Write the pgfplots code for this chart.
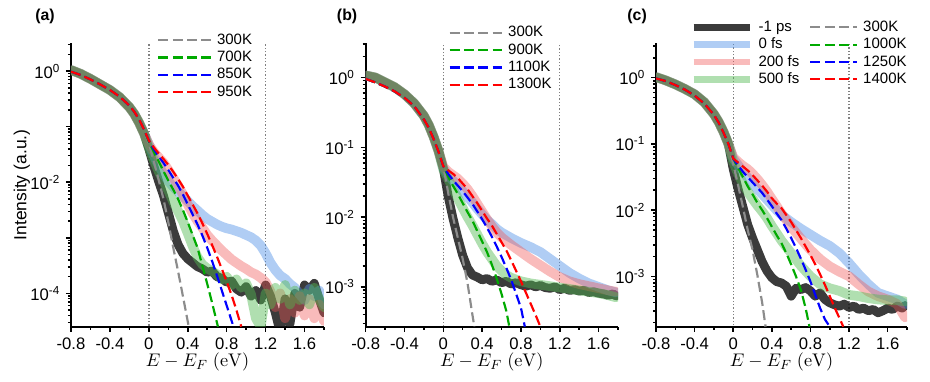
\documentclass[border=0pt]{standalone}
\usepackage[no-math]{fontspec}
\setmainfont{Liberation Sans}
\usepackage{pgfplots}
\pgfplotsset{compat=1.18}

\definecolor{cblack}{RGB}{25,25,25}
\definecolor{cblue}{RGB}{80,145,230}
\definecolor{cred}{RGB}{240,85,85}
\definecolor{cgreen}{RGB}{80,185,80}
\definecolor{fgray}{RGB}{140,140,140}
\definecolor{fgreen}{RGB}{0,170,0}
\definecolor{fblue}{RGB}{0,0,255}
\definecolor{fred}{RGB}{255,0,0}

\tikzset{plab/.style={anchor=west, inner sep=0pt, font=\bfseries\fontsize{9.5}{11}\selectfont}}

\pgfplotsset{
  panel/.style={
    scale only axis, height=170pt, clip mode=individual,
    axis x line*=bottom, axis y line*=left,
    xmin=-0.8, xmax=1.8,
    xtick={-0.8,-0.4,0,0.4,0.8,1.2,1.6},
    xticklabels={-0.8,-0.4,0,0.4,0.8,1.2,1.6},
    minor xtick={-0.6,-0.2,0.2,0.6,1.0,1.4,1.8},
    minor ytick={-4.699,-4.523,-4.398,-4.301,-4.222,-4.155,-4.097,-4.046,
                 -3.699,-3.523,-3.398,-3.301,-3.222,-3.155,-3.097,-3.046,
                 -2.699,-2.523,-2.398,-2.301,-2.222,-2.155,-2.097,-2.046,
                 -1.699,-1.523,-1.398,-1.301,-1.222,-1.155,-1.097,-1.046,
                 -0.699,-0.523,-0.398,-0.301,-0.222,-0.155,-0.097,-0.046,
                 0.301,0.477},
    tick align=outside,
    major tick length=3pt, minor tick length=1.8pt,
    axis line style={line width=1.1pt},
    tick style={black, line width=0.9pt},
    ticklabel style={font=\fontsize{10}{12}\selectfont},
    xlabel={$E - E_F\ (\mathrm{eV})$},
    xlabel style={font=\fontsize{11}{13}\selectfont, at={(axis description cs:0.5,-0.124)}, anchor=center},
    legend style={draw=none, fill=none, inner sep=0pt, font=\fontsize{9}{11}\selectfont,
      anchor=north west, cells={anchor=west},
      nodes={inner sep=0.5pt, text height=7.2pt, text depth=2.2pt},
      /tikz/every odd column/.append style={column sep=2.5pt}},
    legend image code/.code={\draw[##1] (0pt,0pt) -- (31.5pt,0pt);},
  },
  dlegend/.style={legend image code/.code={\draw[##1, line width=4pt, line cap=butt] (0pt,0pt) -- (34pt,0pt);}},
  flegend/.style={legend image code/.code={\draw[##1] (0pt,0pt) -- (28pt,0pt);}},
  dat/.style={line width=5.8pt, line join=round, line cap=round},
  dblack/.style={dat, line width=5.3pt, color=cblack, opacity=0.85},
  dblue/.style={dat, color=cblue, opacity=0.45},
  dred/.style={dat, color=cred, opacity=0.4},
  dgreen/.style={dat, color=cgreen, opacity=0.45},
  fitl/.style={line width=1.3pt, dash pattern=on 6pt off 2.6pt},
  vline/.style={color=gray, line width=0.8pt, dash pattern=on 0.8pt off 1.2pt, forget plot},
}

\begin{document}
\begin{tikzpicture}
\useasboundingbox (0,0) rectangle (558pt,229.2pt);

%%%%%%%%%%%%%%%%%%%% (a)
\begin{axis}[panel, at={(42.6pt,33.2pt)}, anchor=south west, width=151.8pt,
  ymin=-4.6, ymax=0.5,
  ytick={-4,-3,-2,-1,0},
  yticklabels={10\textsuperscript{-4},,10\textsuperscript{-2},,10\textsuperscript{0}},
  ylabel={Intensity (a.u.)},
  ylabel style={font=\fontsize{10.5}{12}\selectfont, at={(axis description cs:-0.194,0.5)}, anchor=center},
  legend style={at={(0.34,1.043)}}]
\addplot[vline] coordinates {(0,-5) (0,1)};
\addplot[vline] coordinates {(1.2,-5) (1.2,1)};
\addplot[dblack, forget plot] table {
-0.8 0.02
-0.7 -0.05
-0.6 -0.14
-0.5 -0.24
-0.4 -0.34
-0.3 -0.47
-0.2 -0.65
-0.15 -0.77
-0.1 -0.93
-0.05 -1.12
0 -1.40
0.05 -1.70
0.1 -1.98
0.15 -2.24
0.2 -2.55
0.25 -2.87
0.3 -3.12
0.35 -3.28
0.4 -3.38
0.45 -3.45
0.5 -3.52
0.55 -3.56
0.6 -3.62
0.65 -3.6
0.7 -3.7
0.75 -3.73
0.8 -3.8
0.85 -3.78
0.9 -3.92
0.95 -3.98
1.0 -3.88
1.05 -4.05
1.1 -3.95
1.15 -4.12
1.2 -3.85
1.25 -4.05
1.3 -4.35
1.35 -4.7
1.4 -4.1
1.45 -4.55
1.5 -4.0
1.55 -4.25
1.6 -3.85
1.65 -3.95
1.7 -3.82
1.75 -4.1
1.8 -4.35
};
\addplot[dblue, forget plot] table {
-0.8 0.02
-0.7 -0.05
-0.6 -0.14
-0.5 -0.24
-0.4 -0.34
-0.3 -0.47
-0.2 -0.65
-0.15 -0.77
-0.1 -0.93
-0.05 -1.12
0 -1.32
0.05 -1.52
0.1 -1.70
0.15 -1.85
0.2 -1.98
0.25 -2.08
0.3 -2.17
0.35 -2.25
0.4 -2.34
0.45 -2.43
0.5 -2.51
0.55 -2.59
0.6 -2.66
0.65 -2.71
0.7 -2.76
0.75 -2.8
0.8 -2.83
0.85 -2.85
0.9 -2.88
0.95 -2.91
1.0 -2.95
1.05 -2.99
1.1 -3.05
1.15 -3.14
1.2 -3.28
1.25 -3.45
1.3 -3.58
1.35 -3.68
1.4 -3.74
1.45 -3.83
1.5 -3.9
1.55 -4.02
1.6 -4.12
1.65 -3.92
1.7 -4.05
1.75 -3.95
1.8 -4.2
};
\addplot[dred, forget plot] table {
-0.8 0.02
-0.7 -0.05
-0.6 -0.14
-0.5 -0.24
-0.4 -0.34
-0.3 -0.47
-0.2 -0.65
-0.15 -0.77
-0.1 -0.93
-0.05 -1.12
0 -1.32
0.05 -1.45
0.1 -1.55
0.15 -1.65
0.2 -1.78
0.25 -1.92
0.3 -2.06
0.35 -2.22
0.4 -2.4
0.45 -2.56
0.5 -2.7
0.55 -2.82
0.6 -2.95
0.65 -3.05
0.7 -3.14
0.75 -3.23
0.8 -3.31
0.85 -3.39
0.9 -3.45
0.95 -3.51
1.0 -3.56
1.05 -3.62
1.1 -3.66
1.15 -3.72
1.2 -3.8
1.25 -3.97
1.3 -4.25
1.35 -4.0
1.4 -4.45
1.45 -4.1
1.5 -4.35
1.55 -4.05
1.6 -4.4
1.65 -4.1
1.7 -4.45
1.75 -4.2
1.8 -4.5
};
\addplot[dgreen, forget plot] table {
-0.8 0.02
-0.7 -0.05
-0.6 -0.14
-0.5 -0.24
-0.4 -0.34
-0.3 -0.47
-0.2 -0.65
-0.15 -0.77
-0.1 -0.93
-0.05 -1.12
0 -1.38
0.05 -1.6
0.1 -1.8
0.15 -1.98
0.2 -2.15
0.25 -2.35
0.3 -2.52
0.35 -2.7
0.4 -2.92
0.45 -3.15
0.5 -3.35
0.55 -3.48
0.6 -3.55
0.65 -3.6
0.7 -3.66
0.75 -3.75
0.8 -3.7
0.85 -3.85
0.9 -3.75
0.95 -3.9
1.0 -3.82
1.05 -4.02
1.1 -4.45
1.15 -4.6
1.2 -4.0
1.25 -4.2
1.3 -3.9
1.35 -4.1
1.4 -3.85
1.45 -4.2
1.5 -3.95
1.55 -4.12
1.6 -4.0
1.65 -4.2
1.7 -3.9
1.75 -4.1
1.8 -4.25
};
\addplot[fitl, fgray] table {
-0.8 -0.01
-0.7 -0.07
-0.6 -0.15
-0.5 -0.24
-0.4 -0.34
-0.3 -0.46
-0.2 -0.62
-0.15 -0.73
-0.1 -0.87
-0.05 -1.05
0 -1.3
0.05 -1.62
0.1 -1.95
0.15 -2.3
0.2 -2.72
0.25 -3.17
0.3 -3.6
0.35 -4.05
0.41 -4.6
};
\addlegendentry{300K}
\addplot[fitl, fgreen] table {
-0.8 -0.01
-0.7 -0.07
-0.6 -0.15
-0.5 -0.24
-0.4 -0.34
-0.3 -0.46
-0.2 -0.62
-0.15 -0.73
-0.1 -0.87
-0.05 -1.05
0 -1.27
0.05 -1.45
0.1 -1.62
0.15 -1.8
0.2 -1.97
0.25 -2.13
0.3 -2.3
0.35 -2.5
0.4 -2.72
0.45 -2.95
0.5 -3.18
0.55 -3.5
0.6 -3.83
0.65 -4.17
0.71 -4.6
};
\addlegendentry{700K}
\addplot[fitl, fblue] table {
-0.8 -0.01
-0.7 -0.07
-0.6 -0.15
-0.5 -0.24
-0.4 -0.34
-0.3 -0.46
-0.2 -0.62
-0.15 -0.73
-0.1 -0.87
-0.05 -1.05
0 -1.25
0.05 -1.4
0.1 -1.53
0.15 -1.65
0.2 -1.78
0.25 -1.92
0.3 -2.06
0.35 -2.22
0.4 -2.4
0.45 -2.58
0.5 -2.76
0.55 -2.96
0.6 -3.18
0.65 -3.42
0.7 -3.68
0.75 -3.95
0.8 -4.22
0.87 -4.6
};
\addlegendentry{850K}
\addplot[fitl, fred] table {
-0.8 -0.01
-0.7 -0.07
-0.6 -0.15
-0.5 -0.24
-0.4 -0.34
-0.3 -0.46
-0.2 -0.62
-0.15 -0.73
-0.1 -0.87
-0.05 -1.05
0 -1.25
0.05 -1.37
0.1 -1.48
0.15 -1.58
0.2 -1.69
0.25 -1.81
0.3 -1.94
0.35 -2.08
0.4 -2.24
0.45 -2.4
0.5 -2.56
0.55 -2.74
0.6 -2.93
0.65 -3.13
0.7 -3.34
0.75 -3.56
0.8 -3.79
0.85 -4.03
0.9 -4.3
0.95 -4.6
};
\addlegendentry{950K}
\node[plab] at (rel axis cs:-0.142,1.094) {(a)};
\end{axis}

%%%%%%%%%%%%%%%%%%%% (b)
\begin{axis}[panel, at={(219.4pt,33.2pt)}, anchor=south west, width=151.4pt,
  ymin=-3.57, ymax=0.49,
  ytick={-3,-2,-1,0},
  yticklabels={10\textsuperscript{-3},10\textsuperscript{-2},10\textsuperscript{-1},10\textsuperscript{0}},
  legend style={at={(0.327,1.069)}}]
\addplot[vline] coordinates {(0,-5) (0,1)};
\addplot[vline] coordinates {(1.2,-5) (1.2,1)};
\addplot[dblack, forget plot] table {
-0.8 0.03
-0.7 0.0
-0.6 -0.07
-0.5 -0.14
-0.4 -0.24
-0.3 -0.37
-0.2 -0.55
-0.15 -0.68
-0.1 -0.85
-0.05 -1.05
0 -1.30
0.05 -1.70
0.1 -2.02
0.15 -2.3
0.2 -2.55
0.25 -2.73
0.3 -2.83
0.35 -2.86
0.4 -2.9
0.45 -2.88
0.5 -2.92
0.55 -2.9
0.6 -2.94
0.65 -2.92
0.7 -2.96
0.75 -2.94
0.8 -2.97
0.85 -2.99
0.9 -2.97
0.95 -3.0
1.0 -2.98
1.05 -3.01
1.1 -3.02
1.15 -3.0
1.2 -3.04
1.25 -3.02
1.3 -3.05
1.35 -3.04
1.4 -3.06
1.45 -3.05
1.5 -3.08
1.55 -3.07
1.6 -3.09
1.65 -3.1
1.7 -3.12
1.75 -3.1
1.78 -3.13
};
\addplot[dblue, forget plot] table {
-0.8 0.03
-0.7 0.0
-0.6 -0.07
-0.5 -0.14
-0.4 -0.24
-0.3 -0.37
-0.2 -0.55
-0.15 -0.68
-0.1 -0.85
-0.05 -1.05
0 -1.3
0.05 -1.4
0.1 -1.48
0.15 -1.55
0.2 -1.63
0.25 -1.71
0.3 -1.79
0.35 -1.88
0.4 -1.96
0.45 -2.04
0.5 -2.1
0.55 -2.17
0.6 -2.22
0.65 -2.26
0.7 -2.3
0.8 -2.37
0.9 -2.43
1.0 -2.5
1.1 -2.6
1.2 -2.7
1.3 -2.8
1.4 -2.88
1.5 -2.95
1.6 -3.0
1.7 -3.05
1.78 -3.08
};
\addplot[dred, forget plot] table {
-0.8 0.03
-0.7 0.0
-0.6 -0.07
-0.5 -0.14
-0.4 -0.24
-0.3 -0.37
-0.2 -0.55
-0.15 -0.68
-0.1 -0.85
-0.05 -1.05
0 -1.28
0.05 -1.35
0.1 -1.4
0.15 -1.45
0.2 -1.52
0.25 -1.6
0.3 -1.7
0.35 -1.81
0.4 -1.92
0.45 -2.03
0.5 -2.13
0.55 -2.22
0.6 -2.29
0.7 -2.4
0.8 -2.5
0.9 -2.6
1.0 -2.69
1.1 -2.78
1.2 -2.86
1.3 -2.92
1.4 -2.96
1.5 -2.99
1.6 -3.02
1.7 -3.05
1.78 -3.07
};
\addplot[dgreen, forget plot] table {
-0.8 0.03
-0.7 0.0
-0.6 -0.07
-0.5 -0.14
-0.4 -0.24
-0.3 -0.37
-0.2 -0.55
-0.15 -0.68
-0.1 -0.85
-0.05 -1.05
0 -1.32
0.05 -1.45
0.1 -1.6
0.15 -1.73
0.2 -1.87
0.25 -2.0
0.3 -2.12
0.35 -2.25
0.4 -2.38
0.45 -2.5
0.5 -2.6
0.55 -2.7
0.6 -2.77
0.65 -2.83
0.7 -2.87
0.8 -2.92
0.9 -2.95
1.0 -2.97
1.1 -2.99
1.2 -3.01
1.3 -3.03
1.4 -3.05
1.5 -3.07
1.6 -3.09
1.7 -3.12
1.78 -3.15
};
\addplot[fitl, fgray] table {
-0.8 -0.02
-0.7 -0.07
-0.6 -0.13
-0.5 -0.2
-0.4 -0.29
-0.3 -0.41
-0.2 -0.6
-0.15 -0.72
-0.1 -0.88
-0.05 -1.06
0 -1.27
0.05 -1.65
0.1 -2.0
0.15 -2.3
0.2 -2.6
0.25 -2.95
0.3 -3.4
0.32 -3.57
};
\addlegendentry{300K}
\addplot[fitl, fgreen] table {
-0.8 -0.02
-0.7 -0.07
-0.6 -0.13
-0.5 -0.2
-0.4 -0.29
-0.3 -0.41
-0.2 -0.6
-0.15 -0.72
-0.1 -0.88
-0.05 -1.06
0 -1.27
0.05 -1.42
0.1 -1.55
0.15 -1.67
0.2 -1.8
0.25 -1.93
0.3 -2.05
0.35 -2.2
0.4 -2.35
0.45 -2.5
0.5 -2.68
0.55 -2.88
0.6 -3.1
0.65 -3.35
0.68 -3.57
};
\addlegendentry{900K}
\addplot[fitl, fblue] table {
-0.8 -0.02
-0.7 -0.07
-0.6 -0.13
-0.5 -0.2
-0.4 -0.29
-0.3 -0.41
-0.2 -0.6
-0.15 -0.72
-0.1 -0.88
-0.05 -1.06
0 -1.27
0.05 -1.38
0.1 -1.47
0.15 -1.55
0.2 -1.63
0.25 -1.72
0.3 -1.81
0.35 -1.92
0.4 -2.03
0.45 -2.15
0.5 -2.28
0.55 -2.42
0.6 -2.57
0.65 -2.73
0.7 -2.9
0.75 -3.1
0.8 -3.3
0.84 -3.57
};
\addlegendentry{1100K}
\addplot[fitl, fred] table {
-0.8 -0.02
-0.7 -0.07
-0.6 -0.13
-0.5 -0.2
-0.4 -0.29
-0.3 -0.41
-0.2 -0.6
-0.15 -0.72
-0.1 -0.88
-0.05 -1.06
0 -1.27
0.05 -1.33
0.1 -1.38
0.15 -1.44
0.2 -1.52
0.25 -1.6
0.3 -1.7
0.35 -1.8
0.4 -1.91
0.45 -2.02
0.5 -2.12
0.55 -2.24
0.6 -2.36
0.65 -2.48
0.7 -2.62
0.75 -2.77
0.8 -2.92
0.85 -3.08
0.9 -3.24
0.95 -3.4
1.0 -3.57
};
\addlegendentry{1300K}
\node[plab] at (rel axis cs:-0.115,1.094) {(b)};
\end{axis}

%%%%%%%%%%%%%%%%%%%% (c)
\begin{axis}[panel, at={(393.6pt,33.2pt)}, anchor=south west, width=150.6pt,
  ymin=-3.76, ymax=0.52,
  ytick={-3,-2,-1,0},
  yticklabels={10\textsuperscript{-3},10\textsuperscript{-2},10\textsuperscript{-1},10\textsuperscript{0}},
  legend columns=4, transpose legend,
  legend style={at={(0.135,1.088)}, /tikz/every even column/.append style={column sep=5.5pt}}]
\addplot[vline] coordinates {(0,-5) (0,1)};
\addplot[vline] coordinates {(1.2,-5) (1.2,1)};
\addplot[dblack, dlegend] table {
-0.8 0.01
-0.7 -0.04
-0.6 -0.1
-0.5 -0.17
-0.4 -0.25
-0.3 -0.37
-0.2 -0.55
-0.15 -0.67
-0.1 -0.82
-0.05 -1.0
0 -1.38
0.05 -1.68
0.1 -1.95
0.15 -2.22
0.2 -2.42
0.25 -2.6
0.3 -2.78
0.35 -2.92
0.4 -3.02
0.45 -3.08
0.5 -3.1
0.55 -3.15
0.6 -3.3
0.65 -3.18
0.7 -3.2
0.75 -3.17
0.8 -3.22
0.85 -3.3
0.9 -3.25
0.95 -3.35
1.0 -3.4
1.05 -3.43
1.1 -3.45
1.15 -3.42
1.2 -3.47
1.25 -3.45
1.3 -3.5
1.35 -3.48
1.4 -3.52
1.45 -3.5
1.5 -3.55
1.55 -3.52
1.6 -3.48
1.65 -3.5
1.7 -3.45
1.75 -3.48
1.78 -3.44
};
\addlegendentry{-1 ps}
\addplot[dblue, dlegend] table {
-0.8 0.01
-0.7 -0.04
-0.6 -0.1
-0.5 -0.17
-0.4 -0.25
-0.3 -0.37
-0.2 -0.55
-0.15 -0.67
-0.1 -0.82
-0.05 -1.0
0 -1.22
0.05 -1.32
0.1 -1.42
0.15 -1.51
0.2 -1.6
0.25 -1.68
0.3 -1.76
0.35 -1.84
0.4 -1.92
0.45 -2.0
0.5 -2.07
0.6 -2.18
0.7 -2.28
0.8 -2.37
0.9 -2.46
1.0 -2.54
1.1 -2.65
1.2 -2.8
1.3 -2.97
1.4 -3.12
1.5 -3.25
1.6 -3.3
1.7 -3.35
1.78 -3.42
};
\addlegendentry{0 fs}
\addplot[dred, dlegend] table {
-0.8 0.01
-0.7 -0.04
-0.6 -0.1
-0.5 -0.17
-0.4 -0.25
-0.3 -0.37
-0.2 -0.55
-0.15 -0.67
-0.1 -0.82
-0.05 -1.0
0 -1.2
0.05 -1.27
0.1 -1.33
0.15 -1.38
0.2 -1.45
0.25 -1.53
0.3 -1.62
0.35 -1.72
0.4 -1.83
0.45 -1.94
0.5 -2.05
0.6 -2.25
0.7 -2.43
0.8 -2.6
0.9 -2.74
1.0 -2.85
1.1 -2.93
1.2 -3.0
1.3 -3.12
1.4 -3.23
1.5 -3.3
1.6 -3.35
1.7 -3.42
1.75 -3.55
1.78 -3.62
};
\addlegendentry{200 fs}
\addplot[dgreen, dlegend] table {
-0.8 0.01
-0.7 -0.04
-0.6 -0.1
-0.5 -0.17
-0.4 -0.25
-0.3 -0.37
-0.2 -0.55
-0.15 -0.67
-0.1 -0.82
-0.05 -1.0
0 -1.27
0.05 -1.45
0.1 -1.6
0.15 -1.72
0.2 -1.83
0.25 -1.93
0.3 -2.02
0.35 -2.12
0.4 -2.24
0.45 -2.35
0.5 -2.46
0.6 -2.65
0.7 -2.84
0.8 -3.0
0.9 -3.12
1.0 -3.18
1.1 -3.22
1.2 -3.28
1.3 -3.3
1.4 -3.33
1.5 -3.35
1.6 -3.36
1.7 -3.36
1.78 -3.38
};
\addlegendentry{500 fs}
\addplot[fitl, fgray, flegend] table {
-0.8 -0.01
-0.7 -0.05
-0.6 -0.11
-0.5 -0.18
-0.4 -0.27
-0.3 -0.39
-0.2 -0.56
-0.15 -0.68
-0.1 -0.83
-0.05 -1.0
0 -1.3
0.05 -1.62
0.1 -1.95
0.15 -2.3
0.2 -2.6
0.25 -2.98
0.3 -3.4
0.335 -3.76
};
\addlegendentry{300K}
\addplot[fitl, fgreen, flegend] table {
-0.8 -0.01
-0.7 -0.05
-0.6 -0.11
-0.5 -0.18
-0.4 -0.27
-0.3 -0.39
-0.2 -0.56
-0.15 -0.68
-0.1 -0.83
-0.05 -1.0
0 -1.22
0.05 -1.36
0.1 -1.5
0.15 -1.64
0.2 -1.76
0.25 -1.89
0.3 -2.0
0.35 -2.12
0.4 -2.25
0.45 -2.38
0.5 -2.5
0.55 -2.65
0.6 -2.82
0.65 -3.0
0.7 -3.2
0.75 -3.48
0.79 -3.76
};
\addlegendentry{1000K}
\addplot[fitl, fblue, flegend] table {
-0.8 -0.01
-0.7 -0.05
-0.6 -0.11
-0.5 -0.18
-0.4 -0.27
-0.3 -0.39
-0.2 -0.56
-0.15 -0.68
-0.1 -0.83
-0.05 -1.0
0 -1.22
0.05 -1.32
0.1 -1.42
0.15 -1.5
0.2 -1.58
0.25 -1.66
0.3 -1.74
0.35 -1.84
0.4 -1.94
0.45 -2.05
0.5 -2.15
0.55 -2.28
0.6 -2.42
0.65 -2.57
0.7 -2.73
0.75 -2.9
0.8 -3.08
0.85 -3.28
0.9 -3.48
0.95 -3.65
1.0 -3.76
};
\addlegendentry{1250K}
\addplot[fitl, fred, flegend] table {
-0.8 -0.01
-0.7 -0.05
-0.6 -0.11
-0.5 -0.18
-0.4 -0.27
-0.3 -0.39
-0.2 -0.56
-0.15 -0.68
-0.1 -0.83
-0.05 -1.0
0 -1.22
0.05 -1.28
0.1 -1.34
0.15 -1.4
0.2 -1.47
0.25 -1.55
0.3 -1.63
0.35 -1.72
0.4 -1.82
0.45 -1.9
0.5 -1.97
0.6 -2.18
0.7 -2.42
0.8 -2.68
0.85 -2.82
0.9 -2.97
0.95 -3.13
1.0 -3.3
1.05 -3.47
1.1 -3.63
1.14 -3.76
};
\addlegendentry{1400K}
\node[plab] at (rel axis cs:-0.115,1.094) {(c)};
\end{axis}
\end{tikzpicture}
\end{document}
